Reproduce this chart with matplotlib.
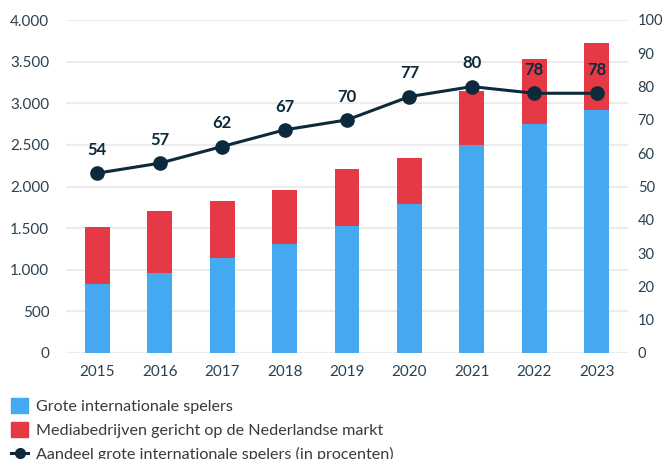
import matplotlib
matplotlib.use('Agg')
import matplotlib.pyplot as plt
from matplotlib.patches import Patch
from matplotlib.lines import Line2D
from matplotlib.ticker import FuncFormatter
import numpy as np

# data
jaren = ['2015', '2016', '2017', '2018', '2019', '2020', '2021', '2022', '2023']
internationaal = [830, 960, 1140, 1315, 1530, 1790, 2500, 2750, 2920]
nederlands = [685, 745, 685, 645, 680, 550, 650, 780, 805]
aandeel = [54, 57, 62, 67, 70, 77, 80, 78, 78]

BLAUW = '#45a9f2'
ROOD = '#e63946'
DONKER = '#0c2a3b'
TEKST = '#2b4150'
GRID = '#ececec'

plt.rcParams['font.family'] = ['Lato', 'DejaVu Sans']

fig = plt.figure(figsize=(6.65, 4.59), dpi=100)
ax = fig.add_axes([66 / 665, 1 - 353 / 459, (628 - 66) / 665, (353 - 20) / 459])
ax2 = ax.twinx()

x = np.arange(len(jaren))
ax.bar(x, internationaal, width=0.4, color=BLAUW, zorder=2)
ax.bar(x, nederlands, width=0.4, bottom=internationaal, color=ROOD, zorder=2)

ax.set_ylim(0, 4000)
ax.set_yticks(np.arange(0, 4001, 500))
ax.yaxis.set_major_formatter(FuncFormatter(lambda v, p: f'{int(v):,}'.replace(',', '.')))
ax.set_xlim(-0.5, len(jaren) - 0.5)
ax.set_xticks(x)
ax.set_xticklabels(jaren)
ax.grid(axis='y', color=GRID, linewidth=1.5, zorder=0)
ax.set_axisbelow(True)

ax2.plot(x, aandeel, color=DONKER, linewidth=2.2, marker='o', markersize=9.5, zorder=5)
for xi, v in zip(x, aandeel):
    ax2.annotate(str(v), (xi, v), xytext=(0, 11), textcoords='offset points',
                 ha='center', va='bottom', fontsize=12, fontweight='bold', color=DONKER)
ax2.set_ylim(0, 100)
ax2.set_yticks(np.arange(0, 101, 10))

for a in (ax, ax2):
    for s in a.spines.values():
        s.set_visible(False)
    a.tick_params(length=0, labelsize=11, colors=TEKST)
ax.tick_params(axis='y', pad=12)
ax.tick_params(axis='x', pad=9)
ax2.tick_params(axis='y', pad=7, labelsize=10.5)

handles = [
    Patch(color=BLAUW),
    Patch(color=ROOD),
    Line2D([0], [0], color=DONKER, linewidth=2.2, marker='o', markersize=7),
]
labels = ['Grote internationale spelers',
          'Mediabedrijven gericht op de Nederlandse markt',
          'Aandeel grote internationale spelers (in procenten)']
fig.legend(handles, labels, loc='upper left', bbox_to_anchor=(0.0, 0.157),
           frameon=False, fontsize=11.6, labelcolor='#3a3a3a', handlelength=1.05,
           handleheight=1.05, handletextpad=0.5, labelspacing=0.5, borderaxespad=0.3)

fig.savefig('out.png', dpi=100)
